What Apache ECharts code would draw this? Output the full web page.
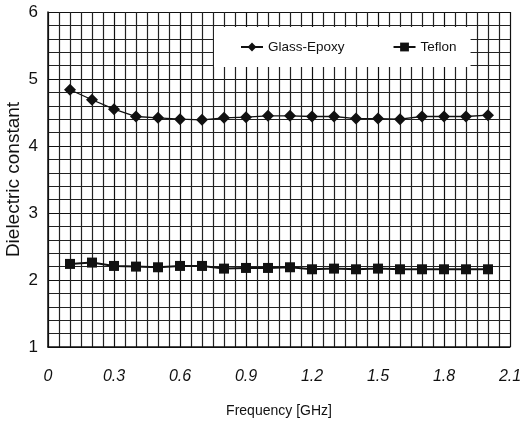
<!DOCTYPE html>
<html><head><meta charset="utf-8">
<script src="https://cdn.jsdelivr.net/npm/echarts@6/dist/echarts.min.js"></script>
<style>html,body{margin:0;padding:0;background:#fff}#c{width:523px;height:424px}</style>
</head><body><div id="c"></div>
<script>
const freq = [0.1,0.2,0.3,0.4,0.5,0.6,0.7,0.8,0.9,1.0,1.1,1.2,1.3,1.4,1.5,1.6,1.7,1.8,1.9,2.0];
const glassEpoxy = [4.84,4.69,4.55,4.44,4.42,4.40,4.39,4.42,4.43,4.45,4.45,4.44,4.44,4.41,4.41,4.40,4.44,4.44,4.44,4.46];
const teflon = [2.24,2.26,2.21,2.20,2.19,2.21,2.21,2.17,2.18,2.18,2.19,2.16,2.17,2.16,2.17,2.16,2.16,2.16,2.16,2.16];
const xTicks = ['0','0.3','0.6','0.9','1.2','1.5','1.8','2.1'];
const yTicks = ['1','2','3','4','5','6'];

const chart = echarts.init(document.getElementById('c'), null, {renderer:'canvas'});
const pair = arr => freq.map((f,i)=>[f,arr[i]]);
chart.setOption({
  animation:false,
  backgroundColor:'#fff',
  grid:{left:48,right:13,top:12,bottom:77,show:false,containLabel:false,outerBoundsMode:'none'},
  legend:{
    left:214, top:27,
    itemGap:48, itemTextGap:2,
    backgroundColor:'#fff',
    padding:[13,14,13,26],
    itemWidth:22, itemHeight:11,
    textStyle:{fontFamily:'Liberation Sans Narrow, Arial Narrow, Liberation Sans',fontSize:13.5,color:'#111'},
    data:[{name:'Glass-Epoxy'},{name:'Teflon'}]
  },
  xAxis:{
    type:'value', min:0, max:2.1, interval:0.3,
    axisLine:{show:true,lineStyle:{color:'#111',width:1.5}},
    axisTick:{show:false},
    axisLabel:{margin:22,fontFamily:'Liberation Sans',fontStyle:'italic',fontSize:16,color:'#111',
      formatter:v=>xTicks[Math.round(v/0.3)] ?? ''},
    splitLine:{show:true,lineStyle:{color:'#111',width:1.2}},
    minorTick:{show:false,splitNumber:6},
    minorSplitLine:{show:true,lineStyle:{color:'#222',width:1.2}},
    name:'Frequency [GHz]', nameLocation:'middle', nameGap:57, nameMoveOverlap:false,
    nameTextStyle:{fontFamily:'Liberation Sans Narrow, Liberation Sans',fontSize:14,color:'#111'}
  },
  yAxis:{
    type:'value', min:1, max:6, interval:1,
    axisLine:{show:true,lineStyle:{color:'#111',width:1.5}},
    axisTick:{show:false},
    axisLabel:{margin:10,fontFamily:'Liberation Sans',fontSize:17,color:'#111',
      formatter:v=>yTicks[Math.round(v-1)] ?? ''},
    splitLine:{show:true,lineStyle:{color:'#111',width:1.2}},
    minorTick:{show:false,splitNumber:5},
    minorSplitLine:{show:true,lineStyle:{color:'#222',width:1.2}},
    name:'Dielectric constant', nameLocation:'middle', nameGap:25, nameRotate:90, nameMoveOverlap:false,
    nameTextStyle:{fontFamily:'Liberation Sans',fontSize:19,color:'#111'}
  },
  series:[
    {name:'Glass-Epoxy',type:'line',data:pair(glassEpoxy),symbol:'diamond',symbolSize:12,
     lineStyle:{color:'#111',width:1.3},itemStyle:{color:'#111'},z:5},
    {name:'Teflon',type:'line',data:pair(teflon),symbol:'rect',symbolSize:10,
     lineStyle:{color:'#111',width:2},itemStyle:{color:'#111'},z:5}
  ]
});
</script></body></html>
